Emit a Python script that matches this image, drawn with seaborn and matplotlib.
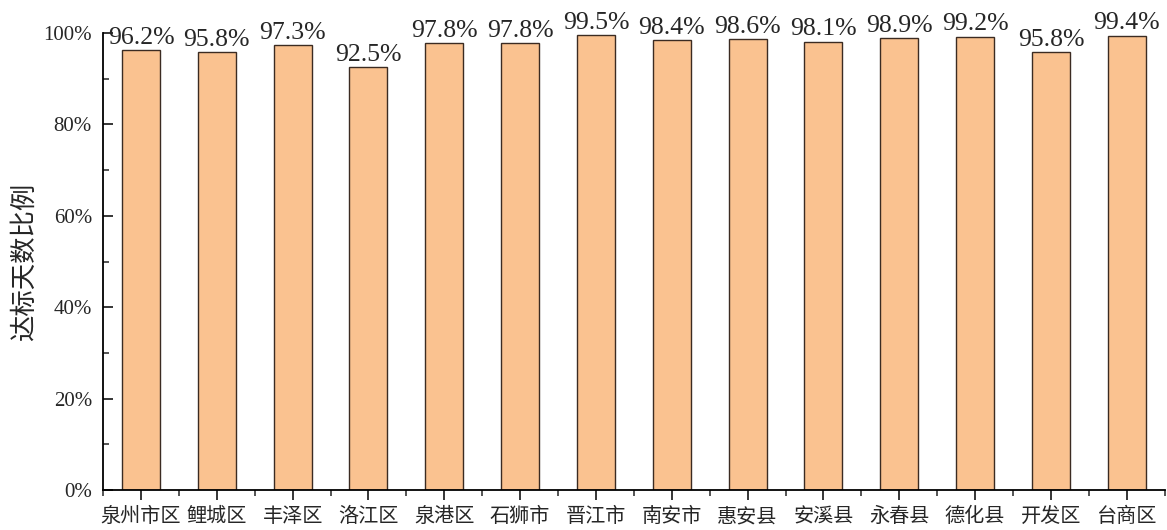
import pandas as pd
import seaborn as sns
import matplotlib.pyplot as plt
from matplotlib.ticker import MultipleLocator, FuncFormatter, FixedLocator

# district names and share of days meeting the standard (%)
districts = ['泉州市区', '鲤城区', '丰泽区', '洛江区', '泉港区', '石狮市', '晋江市',
             '南安市', '惠安县', '安溪县', '永春县', '德化县', '开发区', '台商区']
ratios = [96.2, 95.8, 97.3, 92.5, 97.8, 97.8, 99.5, 98.4, 98.6, 98.1, 98.9, 99.2, 95.8, 99.4]

df = pd.DataFrame({'district': districts, 'ratio': ratios})

sns.set_style('ticks')
plt.rcParams['font.family'] = ['Liberation Serif', 'Noto Sans CJK SC']

fig = plt.figure(figsize=(11.67, 5.3), dpi=100)
ax = fig.add_axes([0.0883, 0.0755, 0.9097, 0.8622])

sns.barplot(data=df, x='district', y='ratio', color='#FAC290', width=0.5,
            edgecolor='#3b2b22', linewidth=1.0, saturation=1, ax=ax)

ax.bar_label(ax.containers[0], fmt='%.1f%%', padding=1, fontsize=18.5,
             clip_on=False)

ax.set_xlim(-0.5, len(districts) - 0.5)
ax.set_ylim(0, 100)
ax.yaxis.set_major_locator(MultipleLocator(20))
ax.yaxis.set_minor_locator(MultipleLocator(10))
ax.yaxis.set_major_formatter(FuncFormatter(lambda v, p: f'{v:.0f}%'))
ax.xaxis.set_minor_locator(FixedLocator([i + 0.5 for i in range(-1, len(districts))]))

ax.tick_params(axis='y', which='major', direction='in', length=7, width=1.3,
               labelsize=15, pad=8, left=True)
ax.tick_params(axis='y', which='minor', direction='in', length=4, width=1.1, left=True)
ax.tick_params(axis='x', which='major', direction='out', length=7, width=1.3,
               labelsize=14.5, pad=6, bottom=True)
ax.tick_params(axis='x', which='minor', direction='out', length=4, width=1.1, bottom=True)

for s in ['top', 'right']:
    ax.spines[s].set_visible(False)
for s in ['left', 'bottom']:
    ax.spines[s].set_linewidth(1.3)
    ax.spines[s].set_color('black')

ax.set_xlabel('')
ax.set_ylabel('达标天数比例', fontsize=19, labelpad=5)

fig.savefig('out.png', dpi=100)
